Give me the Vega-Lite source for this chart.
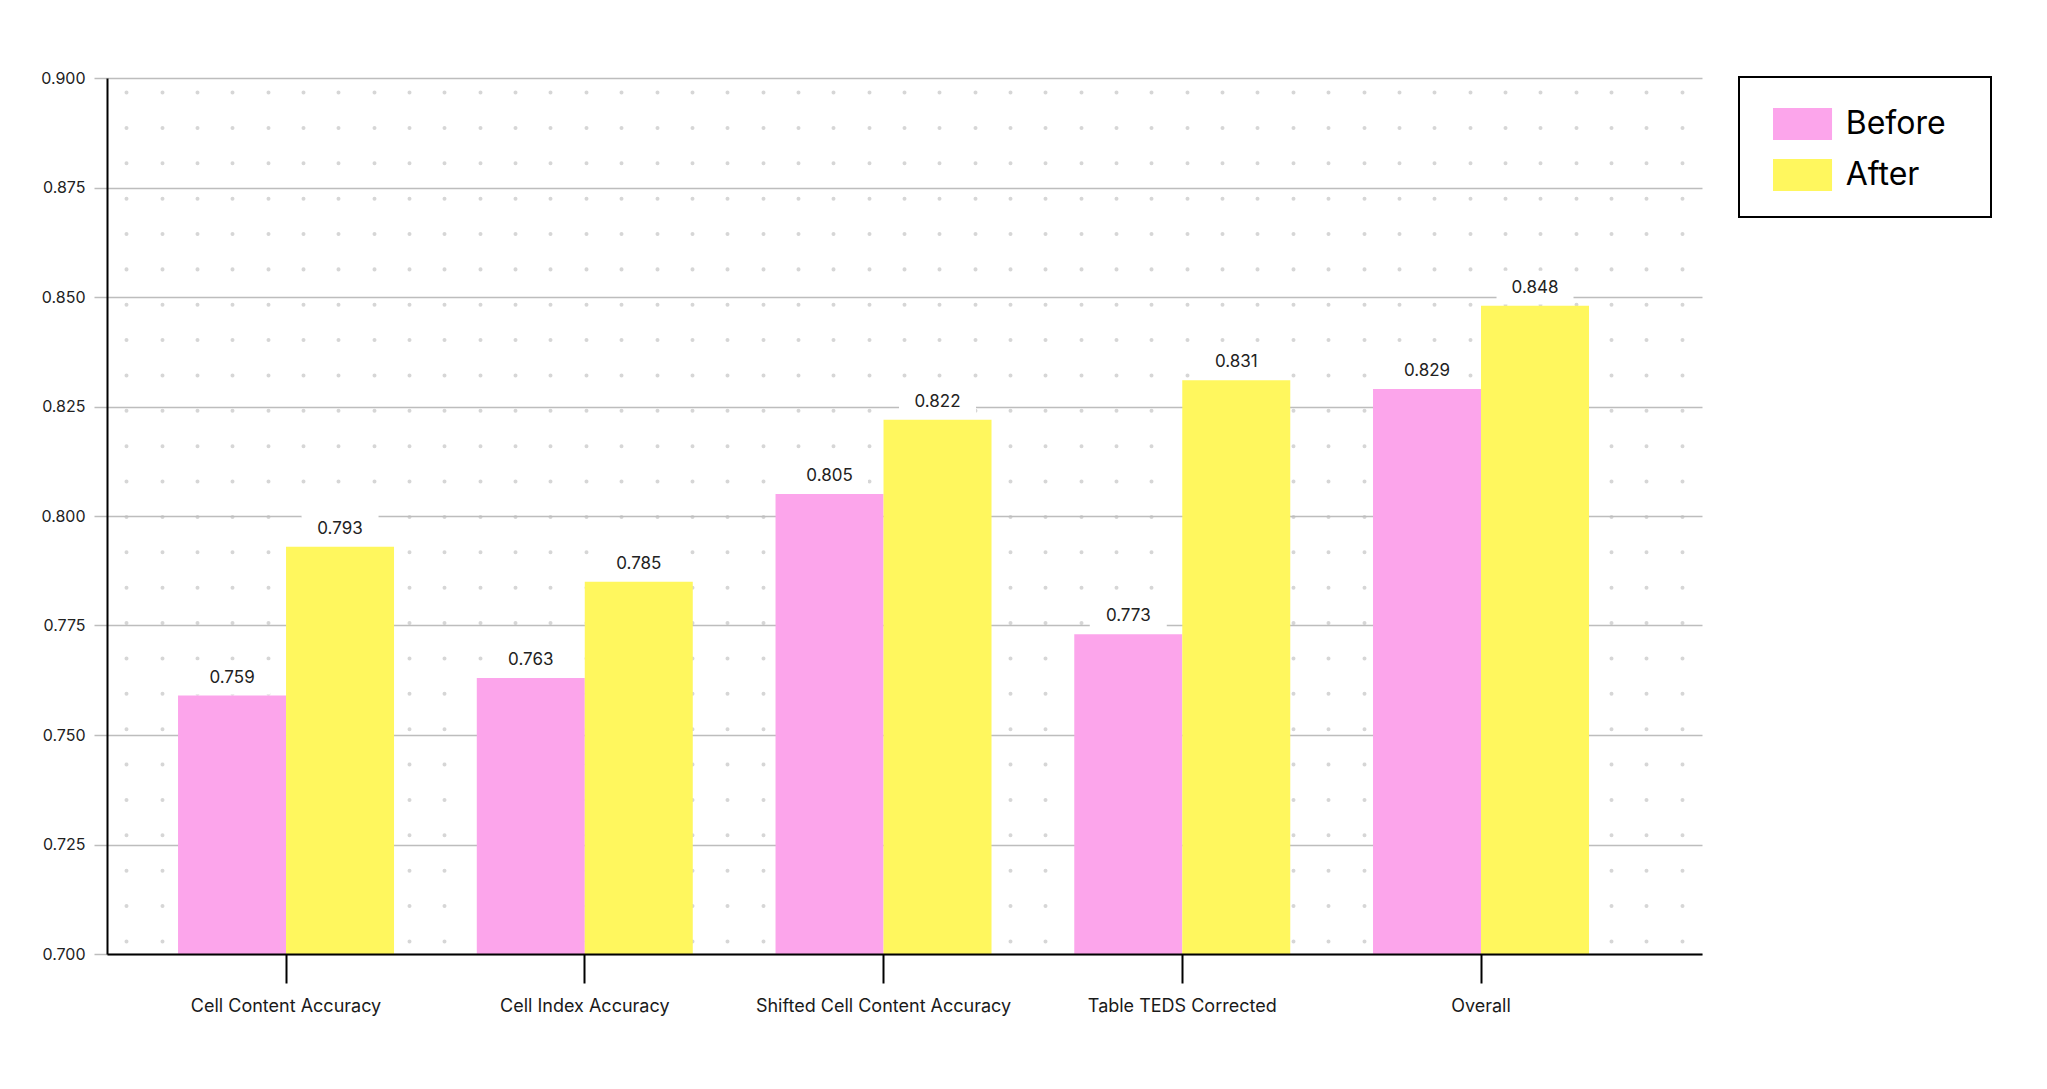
{
  "$schema": "https://vega.github.io/schema/vega-lite/v6.json",
  "width": 1595,
  "height": 876,
  "autosize": "none",
  "padding": {"left": 107, "top": 78, "right": 345, "bottom": 135},
  "background": "white",
  "config": {
    "font": "Inter",
    "view": {"stroke": null},
    "legend": {
      "symbolType": "M-0.5,-0.69L3.19,-0.69L3.19,1.31L-0.5,1.31ZM11.5,0L11.5,0",
      "symbolSize": 1024,
      "symbolStrokeWidth": 0,
      "labelFontSize": 32,
      "labelFont": "Inter",
      "labelColor": "#000000",
      "labelOffset": 48.7,
      "rowPadding": 14,
      "padding": 26,
      "strokeColor": "#000000",
      "strokeWidth": 2,
      "fillColor": "white"
    }
  },
  "data": {
    "values": [
      {"metric": "Cell Content Accuracy", "stage": "Before", "value": 0.759},
      {"metric": "Cell Content Accuracy", "stage": "After", "value": 0.793},
      {"metric": "Cell Index Accuracy", "stage": "Before", "value": 0.763},
      {"metric": "Cell Index Accuracy", "stage": "After", "value": 0.785},
      {"metric": "Shifted Cell Content Accuracy", "stage": "Before", "value": 0.805},
      {"metric": "Shifted Cell Content Accuracy", "stage": "After", "value": 0.822},
      {"metric": "Table TEDS Corrected", "stage": "Before", "value": 0.773},
      {"metric": "Table TEDS Corrected", "stage": "After", "value": 0.831},
      {"metric": "Overall", "stage": "Before", "value": 0.829},
      {"metric": "Overall", "stage": "After", "value": 0.848}
    ]
  },
  "layer": [
    {
      "encoding": {
        "x": {
          "field": "metric",
          "type": "nominal",
          "sort": null,
          "scale": {"paddingInner": 0.277, "paddingOuter": 0.308, "align": 0.386},
          "axis": {
            "title": null,
            "labelAngle": 0,
            "labelFontSize": 18,
            "labelLimit": 0,
            "labelColor": "#1a1a1a",
            "labelPadding": 14,
            "domainColor": "#000000",
            "domainWidth": 2,
            "tickColor": "#000000",
            "tickWidth": 2,
            "tickSize": 29,
            "grid": false,
            "zindex": 1
          }
        },
        "xOffset": {
          "field": "stage",
          "type": "nominal",
          "sort": ["Before", "After"],
          "scale": {"paddingInner": 0, "paddingOuter": 0}
        },
        "y": {
          "field": "value",
          "type": "quantitative",
          "scale": {"domain": [0.7, 0.9], "nice": false, "zero": false},
          "axis": {
            "title": null,
            "values": [0.7, 0.725, 0.75, 0.775, 0.8, 0.825, 0.85, 0.875, 0.9],
            "format": ".3f",
            "labelFontSize": 16,
            "labelColor": "#222222",
            "labelPadding": 9,
            "grid": true,
            "gridColor": "#bdbdbd",
            "gridWidth": 1.5,
            "tickColor": "#bdbdbd",
            "tickWidth": 1.5,
            "tickSize": 13,
            "domainColor": "#000000",
            "domainWidth": 2
          }
        }
      },
      "layer": [
        {
          "mark": {"type": "bar"},
          "encoding": {
            "y2": {"datum": 0.7},
            "color": {
              "field": "stage",
              "type": "nominal",
              "sort": ["Before", "After"],
              "scale": {"domain": ["Before", "After"], "range": ["#FCA5EB", "#FFF75E"]},
              "legend": {
                "title": null,
                "orient": "none",
                "legendX": 1632,
                "legendY": -1,
                "encode": {"labels": {"update": {"dy": {"value": 5}}}}
              }
            }
          }
        },
        {
          "mark": {
            "type": "point",
            "shape": "M-1,-0.91L1,-0.91L1,-0.03L-1,-0.03Z",
            "size": 5929,
            "filled": true,
            "fill": "white",
            "opacity": 1,
            "strokeWidth": 0
          }
        },
        {
          "mark": {"type": "text", "dy": -18, "baseline": "middle", "fontSize": 17, "color": "#222222"},
          "encoding": {"text": {"field": "value", "type": "quantitative", "format": ".3f"}}
        }
      ]
    },
    {
      "mark": {"type": "rule", "opacity": 0},
      "encoding": {
        "x": {
          "field": "value",
          "type": "quantitative",
          "scale": {"domain": [-0.546, 44.576], "nice": false, "zero": false},
          "axis": {
            "orient": "top",
            "title": null,
            "tickCount": 45,
            "labels": false,
            "ticks": false,
            "domain": false,
            "grid": true,
            "gridColor": "#d6d6d6",
            "gridWidth": 4,
            "gridCap": "round",
            "gridDash": [0.01, 35.36],
            "gridDashOffset": 21.35
          }
        }
      }
    }
  ],
  "resolve": {"scale": {"x": "independent"}, "axis": {"x": "independent"}}
}
